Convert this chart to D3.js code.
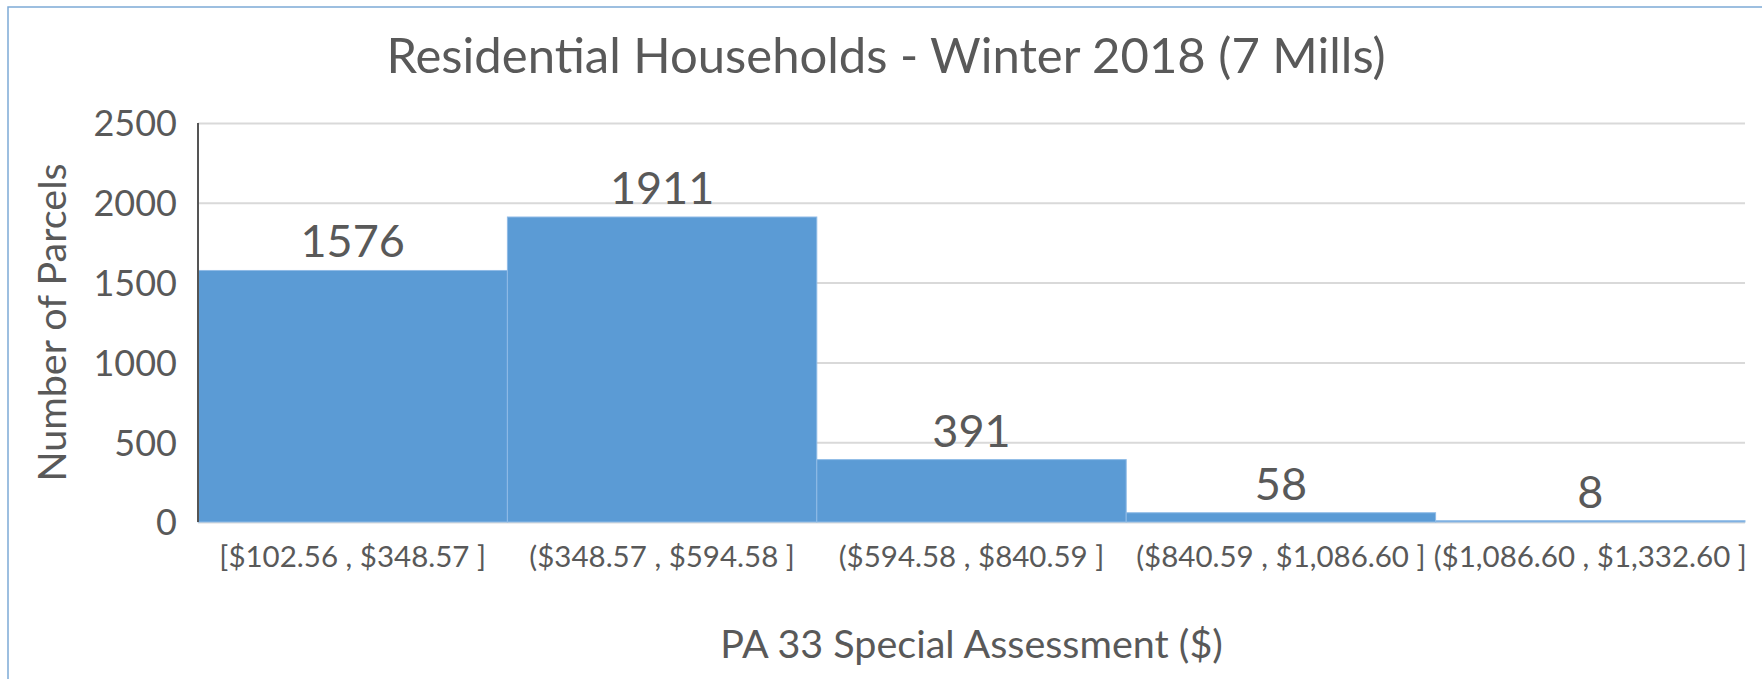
<!DOCTYPE html>
<html>
<head>
<meta charset="utf-8">
<script src="https://cdn.jsdelivr.net/npm/d3@7"></script>
<style>
  body { margin: 0; background: #fff; }
  text { font-family: Lato, "Open Sans", sans-serif; fill: #595959; }
</style>
</head>
<body>
<div id="chart"></div>
<script>
// values
let bins = ["[$102.56 , $348.57 ]", "($348.57 , $594.58 ]", "($594.58 , $840.59 ]",
            "($840.59 , $1,086.60 ]", "($1,086.60 , $1,332.60 ]"];
let parcels = [1576, 1911, 391, 58, 8];
let yTicks = [0, 500, 1000, 1500, 2000, 2500];

let w = 1762, h = 679;
// plot area edges (note: "top" clashes with window.top)
let plotL = 198, plotR = 1745, plotT = 123, plotB = 522;

let svg = d3.select('#chart')
    .append('svg')
    .attr('width', w)
    .attr('height', h)

// chart area border (only top/left show in the picture)
svg.append('rect')
    .attr('x', 8)
    .attr('y', 7)
    .attr('width', w + 10)
    .attr('height', h + 10)
    .attr('fill', 'none')
    .attr('stroke', '#7eaad6')
    .attr('stroke-width', 1.5)

let x = d3.scaleBand()
    .domain(bins)
    .range([plotL, plotR])
    .padding(0);

let y = d3.scaleLinear()
    .domain([0, 2500])
    .range([plotB, plotT]);

// gridlines
svg.append('g')
    .attr('transform', 'translate(' + plotL + ',0)')
    .call(d3.axisLeft(y).tickValues(yTicks).tickSize(-(plotR - plotL)).tickFormat(''))
    .call(g => g.select('.domain').remove())
    .selectAll('line')
    .attr('stroke', '#d9d9d9')
    .attr('stroke-width', 2)

// y tick labels
svg.append('g')
    .attr('transform', 'translate(' + plotL + ',0)')
    .call(d3.axisLeft(y).tickValues(yTicks).tickSize(0).tickPadding(21).tickFormat(d3.format('d')))
    .call(g => g.select('.domain').remove())
    .selectAll('text')
    .style('font-size', '36px')
    .style('font-family', 'Lato, sans-serif')
    .attr('fill', '#595959')
    .attr('dy', '0.36em')

// bars
svg.selectAll('rect.bar')
    .data(parcels)
    .enter()
    .append('rect')
    .attr('class', 'bar')
    .attr('x', (d, i) => x(bins[i]))
    .attr('width', x.bandwidth())
    .attr('y', d => y(d))
    .attr('height', d => plotB - y(d))
    .attr('fill', '#5b9bd5')
    .attr('stroke', '#8fbbe6')
    .attr('stroke-width', 1)

// y axis line
svg.append('line')
    .attr('x1', plotL)
    .attr('x2', plotL)
    .attr('y1', plotT)
    .attr('y2', plotB)
    .attr('stroke', '#555')
    .attr('stroke-width', 2)

// data labels
svg.selectAll('text.val')
    .data(parcels)
    .enter()
    .append('text')
    .attr('class', 'val')
    .text(d => d)
    .attr('x', (d, i) => x(bins[i]) + x.bandwidth() / 2)
    .attr('y', d => y(d) - 13)
    .attr('text-anchor', 'middle')
    .style('font-size', '45px')

// x category labels
svg.selectAll('text.cat')
    .data(bins)
    .enter()
    .append('text')
    .attr('class', 'cat')
    .text(d => d)
    .attr('x', d => x(d) + x.bandwidth() / 2)
    .attr('y', 567)
    .attr('text-anchor', 'middle')
    .style('font-size', '29.5px')

svg.append('text')
    .text('Residential Households - Winter 2018 (7 Mills)')
    .attr('x', 886)
    .attr('y', 73)
    .attr('text-anchor', 'middle')
    .style('font-size', '49px')

svg.append('text')
    .text('PA 33 Special Assessment ($)')
    .attr('x', (plotL + plotR) / 2)
    .attr('y', 658)
    .attr('text-anchor', 'middle')
    .style('font-size', '39.5px')

svg.append('text')
    .text('Number of Parcels')
    .attr('transform', 'translate(66,' + (plotT + plotB) / 2 + ') rotate(-90)')
    .attr('text-anchor', 'middle')
    .style('font-size', '39.5px')
</script>
</body>
</html>
